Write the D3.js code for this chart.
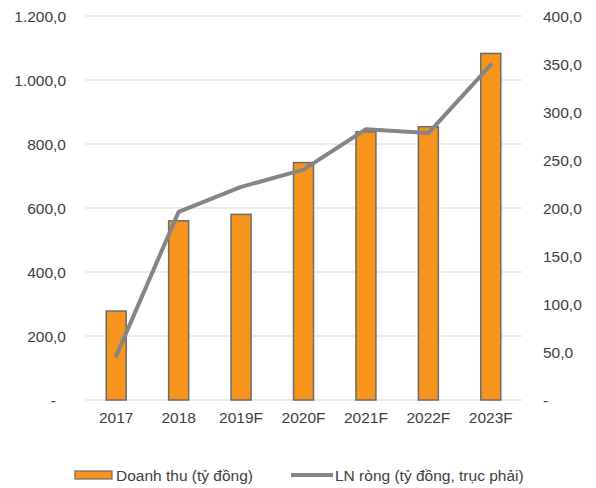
<!DOCTYPE html>
<html>
<head>
<meta charset="utf-8">
<script src="https://cdn.jsdelivr.net/npm/d3@7"></script>
<style>
  body { margin: 0; background: #fff; }
  svg text { font-family: "Liberation Sans", Arial, sans-serif; fill: #404040; }
</style>
</head>
<body>
<div id="chart"></div>
<script>
// data
let years = ['2017', '2018', '2019F', '2020F', '2021F', '2022F', '2023F'];
let revenue = [278, 560, 580, 742, 838, 854, 1083];      // Doanh thu, left axis
let netProfit = [46, 196, 222, 240, 282, 278, 349];      // LN ròng, right axis
let leftTicks = [0, 200, 400, 600, 800, 1000, 1200];
let rightTicks = [0, 50, 100, 150, 200, 250, 300, 350, 400];
let legendLabels = ['Doanh thu (tỷ đồng)', 'LN ròng (tỷ đồng, trục phải)'];

var W = 596, H = 488;
var vpX = [85, 522], vpY = [16, 400];
var fontSize = '15.5px';

var svg = d3.select('#chart').append('svg')
    .attr('width', W).attr('height', H);

var x = d3.scaleBand().domain(years).range(vpX).paddingInner(0.68).paddingOuter(0.34);
var yL = d3.scaleLinear().domain([0, 1200]).range([vpY[1], vpY[0]]);
var yR = d3.scaleLinear().domain([0, 400]).range([vpY[1], vpY[0]]);

// number format like 1.200,0 ; zero shown as '-'
var vn = d3.formatLocale({ decimal: ',', thousands: '.', grouping: [3], currency: ['', ''] });
var fmt = function (d) { return d === 0 ? '-' : vn.format(',.1f')(d); };

// gridlines
svg.append('g').selectAll('line').data(leftTicks).enter()
    .append('line')
    .attr('x1', vpX[0]).attr('x2', vpX[1])
    .attr('y1', function (d) { return yL(d); })
    .attr('y2', function (d) { return yL(d); })
    .attr('stroke', '#d9d9d9').attr('stroke-width', 1);

// left axis labels
var axL = svg.append('g').attr('transform', 'translate(' + (vpX[0] - 19) + ',0)')
    .call(d3.axisLeft(yL).tickValues(leftTicks).tickFormat(fmt).tickSize(0).tickPadding(0));
axL.select('.domain').remove();
axL.selectAll('text').style('font-size', fontSize).attr('dy', '0.35em');
axL.selectAll('.tick').filter(function (d) { return d === 0; }).select('text').attr('dx', '-10');

// right axis labels
var axR = svg.append('g').attr('transform', 'translate(' + (vpX[1] + 21) + ',0)')
    .call(d3.axisRight(yR).tickValues(rightTicks).tickFormat(fmt).tickSize(0).tickPadding(0));
axR.select('.domain').remove();
axR.selectAll('text').style('font-size', fontSize).attr('dy', '0.35em');

// x axis labels
var axX = svg.append('g').attr('transform', 'translate(0,' + vpY[1] + ')')
    .call(d3.axisBottom(x).tickSize(0).tickPadding(12));
axX.select('.domain').remove();
axX.selectAll('text').style('font-size', fontSize);

// bars
svg.append('g').selectAll('rect').data(revenue).enter()
    .append('rect')
    .attr('x', function (d, i) { return x(years[i]); })
    .attr('width', x.bandwidth())
    .attr('y', function (d) { return yL(d); })
    .attr('height', function (d) { return yL(0) - yL(d); })
    .attr('fill', '#f7941d')
    .attr('stroke', '#6b6b6b').attr('stroke-width', 1.5);

// line
var line = d3.line()
    .x(function (d, i) { return x(years[i]) + x.bandwidth() / 2; })
    .y(function (d) { return yR(d); });
svg.append('path').datum(netProfit)
    .attr('d', line)
    .attr('fill', 'none')
    .attr('stroke', '#858585').attr('stroke-width', 4)
    .attr('stroke-linecap', 'round').attr('stroke-linejoin', 'round');

// legend
var lg = svg.append('g');
lg.append('rect').attr('x', 75).attr('y', 471).attr('width', 37).attr('height', 8)
    .attr('fill', '#f7941d').attr('stroke', '#6b6b6b').attr('stroke-width', 1.2);
lg.append('text').attr('x', 116).attr('y', 481).style('font-size', fontSize).text(legendLabels[0]);
lg.append('line').attr('x1', 291).attr('x2', 333).attr('y1', 475).attr('y2', 475)
    .attr('stroke', '#858585').attr('stroke-width', 4);
lg.append('text').attr('x', 335).attr('y', 481).style('font-size', fontSize).text(legendLabels[1]);
</script>
</body>
</html>
